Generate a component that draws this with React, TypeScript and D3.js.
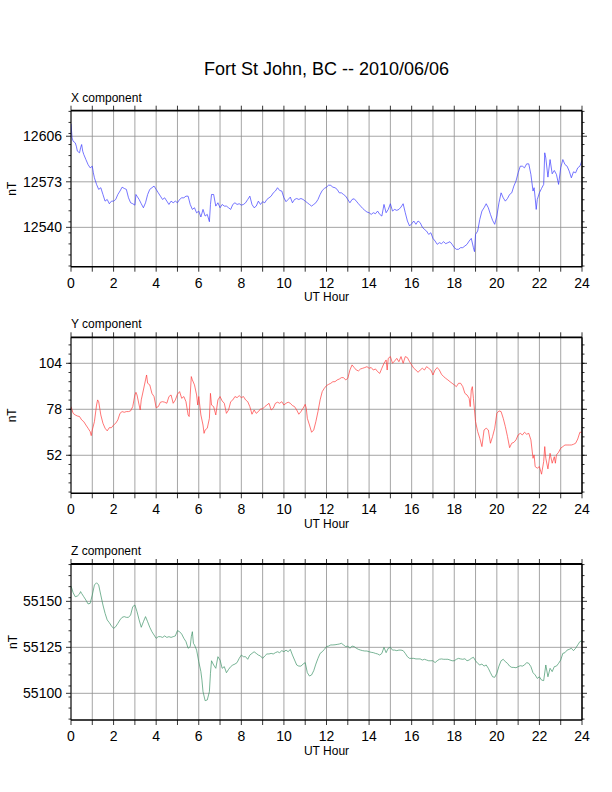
import * as d3 from "d3";

// ── Data (hour UT, nT) ───────────────────────────────────────
const X_COMPONENT: [number, number][] = [
  [0, 12614.9], [0.05, 12604.8], [0.1, 12602.4], [0.2, 12601.2], [0.25, 12598.8], [0.3, 12595.2],
  [0.4, 12594.0], [0.45, 12597.6], [0.5, 12600.0], [0.55, 12595.2], [0.6, 12592.8], [0.7, 12589.1],
  [0.8, 12585.5], [0.9, 12583.1], [1.0, 12584.3], [1.05, 12579.5], [1.1, 12575.9], [1.2, 12571.1],
  [1.3, 12567.5], [1.4, 12568.7], [1.5, 12563.8], [1.6, 12559.0], [1.7, 12560.2], [1.8, 12557.1],
  [1.9, 12559.0], [2.0, 12559.0], [2.1, 12560.2], [2.2, 12563.8], [2.3, 12566.3], [2.4, 12569.1],
  [2.5, 12568.2], [2.6, 12567.5], [2.7, 12561.4], [2.8, 12557.8], [2.9, 12557.1], [3.0, 12556.1],
  [3.05, 12563.8], [3.1, 12562.6], [3.2, 12560.2], [3.3, 12557.1], [3.4, 12554.2], [3.5, 12557.8],
  [3.6, 12563.8], [3.7, 12567.5], [3.8, 12568.7], [3.9, 12569.9], [4.0, 12567.5], [4.1, 12565.0],
  [4.2, 12562.6], [4.3, 12560.2], [4.4, 12561.4], [4.5, 12559.0], [4.6, 12556.6], [4.7, 12559.0],
  [4.8, 12557.8], [4.9, 12559.0], [5.0, 12557.8], [5.1, 12560.2], [5.2, 12561.4], [5.3, 12561.4],
  [5.4, 12562.6], [5.5, 12562.6], [5.6, 12556.6], [5.7, 12553.0], [5.8, 12554.2], [5.9, 12550.5],
  [6.0, 12551.8], [6.1, 12547.5], [6.2, 12553.0], [6.3, 12548.2], [6.4, 12549.4], [6.5, 12544.1],
  [6.55, 12556.6], [6.6, 12563.8], [6.7, 12563.8], [6.8, 12555.4], [6.9, 12557.8], [7.0, 12554.2],
  [7.1, 12556.6], [7.2, 12555.4], [7.3, 12555.4], [7.4, 12554.2], [7.5, 12553.0], [7.6, 12556.6],
  [7.7, 12557.8], [7.8, 12556.6], [7.9, 12557.1], [8.0, 12556.1], [8.1, 12556.6], [8.2, 12557.8],
  [8.3, 12560.2], [8.4, 12562.6], [8.5, 12556.6], [8.6, 12554.2], [8.7, 12555.4], [8.8, 12559.0],
  [8.9, 12556.6], [9.0, 12558.6], [9.1, 12557.8], [9.2, 12560.2], [9.3, 12561.4], [9.4, 12562.6],
  [9.5, 12565.0], [9.6, 12566.3], [9.7, 12568.7], [9.8, 12566.7], [9.9, 12566.3], [10.0, 12561.4],
  [10.1, 12558.6], [10.2, 12560.2], [10.3, 12561.9], [10.4, 12557.8], [10.5, 12560.2], [10.6, 12560.9],
  [10.7, 12560.2], [10.8, 12560.9], [10.9, 12560.2], [11.0, 12559.0], [11.1, 12557.8], [11.2, 12556.6],
  [11.3, 12555.4], [11.4, 12556.6], [11.5, 12557.8], [11.6, 12560.2], [11.7, 12563.8], [11.8, 12566.7],
  [11.9, 12568.2], [12.0, 12569.1], [12.1, 12570.6], [12.2, 12570.4], [12.3, 12569.1], [12.4, 12568.7],
  [12.5, 12567.5], [12.6, 12565.0], [12.7, 12565.0], [12.8, 12563.8], [12.9, 12562.6], [13.0, 12560.2],
  [13.1, 12557.8], [13.2, 12560.2], [13.3, 12560.7], [13.4, 12559.0], [13.5, 12557.1], [13.6, 12555.4],
  [13.7, 12553.7], [13.8, 12552.3], [13.9, 12551.1], [14.0, 12550.6], [14.1, 12549.4], [14.2, 12550.6],
  [14.3, 12549.9], [14.4, 12551.8], [14.5, 12549.4], [14.6, 12548.2], [14.7, 12556.6], [14.8, 12550.6],
  [14.9, 12553.0], [15.0, 12557.1], [15.1, 12551.8], [15.2, 12553.0], [15.3, 12552.3], [15.4, 12553.0],
  [15.5, 12554.7], [15.6, 12557.1], [15.7, 12550.6], [15.8, 12544.6], [15.9, 12541.0], [16.0, 12542.6],
  [16.1, 12544.6], [16.2, 12542.2], [16.3, 12544.6], [16.4, 12543.4], [16.5, 12540.2], [16.6, 12538.5],
  [16.7, 12537.3], [16.8, 12534.9], [16.9, 12536.1], [17.0, 12532.0], [17.1, 12530.1], [17.2, 12527.7],
  [17.3, 12528.9], [17.4, 12528.2], [17.5, 12529.6], [17.6, 12528.2], [17.7, 12528.9], [17.8, 12529.6],
  [17.9, 12527.7], [18.0, 12525.3], [18.1, 12524.1], [18.2, 12524.1], [18.3, 12525.3], [18.4, 12525.3],
  [18.5, 12526.5], [18.6, 12527.7], [18.7, 12530.1], [18.8, 12532.0], [18.9, 12525.3], [18.95, 12522.4],
  [19.0, 12534.9], [19.1, 12537.3], [19.2, 12545.8], [19.3, 12551.8], [19.4, 12554.2], [19.5, 12557.1],
  [19.6, 12554.2], [19.7, 12549.4], [19.8, 12545.1], [19.9, 12542.2], [20.0, 12548.2], [20.1, 12557.8],
  [20.2, 12565.0], [20.3, 12561.4], [20.4, 12559.0], [20.5, 12560.9], [20.6, 12563.8], [20.7, 12565.0],
  [20.8, 12569.9], [20.9, 12573.5], [21.0, 12579.5], [21.1, 12584.3], [21.2, 12584.3], [21.3, 12583.1],
  [21.4, 12586.0], [21.5, 12586.0], [21.6, 12578.3], [21.7, 12566.3], [21.75, 12568.7], [21.8, 12561.4],
  [21.85, 12553.0], [21.9, 12560.2], [22.0, 12565.0], [22.1, 12568.2], [22.2, 12571.1], [22.25, 12594.0],
  [22.3, 12590.3], [22.4, 12576.4], [22.5, 12589.1], [22.6, 12578.8], [22.7, 12581.2], [22.8, 12578.3],
  [22.9, 12571.1], [23.0, 12583.1], [23.1, 12589.1], [23.2, 12585.5], [23.3, 12584.3], [23.4, 12580.7],
  [23.5, 12575.9], [23.6, 12580.2], [23.7, 12579.5], [23.8, 12583.1], [23.9, 12584.3], [24.0, 12588.4],
];

const Y_COMPONENT: [number, number][] = [
  [0, 79.5], [0.1, 75.7], [0.2, 74.8], [0.3, 74.2], [0.4, 73.9], [0.5, 72.0], [0.6, 71.0], [0.7, 69.1],
  [0.8, 67.3], [0.9, 65.4], [0.95, 63.1], [1.0, 66.3], [1.1, 71.0], [1.2, 80.4], [1.25, 83.3], [1.3, 82.3],
  [1.4, 74.8], [1.5, 70.1], [1.6, 67.3], [1.7, 65.8], [1.8, 67.6], [1.9, 67.6], [2.0, 69.1], [2.1, 70.1],
  [2.2, 72.0], [2.3, 75.7], [2.4, 76.7], [2.5, 76.3], [2.6, 76.7], [2.7, 76.7], [2.8, 77.1], [2.9, 79.5],
  [3.0, 86.1], [3.05, 87.6], [3.1, 86.1], [3.2, 80.4], [3.25, 77.6], [3.3, 83.3], [3.4, 88.9], [3.5, 94.6],
  [3.55, 97.4], [3.6, 92.7], [3.7, 91.8], [3.8, 87.0], [3.9, 85.2], [4.0, 78.9], [4.1, 79.5], [4.2, 82.0],
  [4.3, 82.3], [4.4, 82.0], [4.5, 81.4], [4.6, 85.2], [4.7, 86.1], [4.8, 81.4], [4.9, 83.3], [5.0, 86.5],
  [5.1, 88.0], [5.2, 84.2], [5.3, 85.2], [5.4, 82.3], [5.5, 74.8], [5.55, 73.9], [5.6, 86.1], [5.65, 96.5],
  [5.7, 94.6], [5.8, 91.8], [5.9, 86.1], [5.95, 80.4], [6.0, 85.2], [6.1, 74.8], [6.2, 69.1], [6.25, 64.4],
  [6.3, 66.3], [6.4, 67.3], [6.5, 72.9], [6.55, 87.0], [6.6, 80.4], [6.7, 79.5], [6.8, 74.8], [6.9, 83.3],
  [7.0, 85.2], [7.1, 82.7], [7.2, 81.4], [7.3, 75.7], [7.4, 77.6], [7.5, 82.3], [7.6, 83.3], [7.7, 85.2],
  [7.8, 84.6], [7.9, 85.7], [8.0, 84.6], [8.1, 85.2], [8.2, 83.3], [8.3, 82.3], [8.4, 79.5], [8.5, 75.2],
  [8.6, 77.6], [8.7, 75.7], [8.8, 76.7], [8.9, 78.2], [9.0, 78.2], [9.1, 79.5], [9.2, 80.4], [9.3, 81.4],
  [9.4, 77.6], [9.5, 78.6], [9.6, 81.4], [9.7, 82.0], [9.8, 81.4], [9.9, 82.3], [10.0, 80.4], [10.1, 81.4],
  [10.2, 82.0], [10.3, 81.4], [10.4, 80.1], [10.5, 79.5], [10.6, 77.6], [10.7, 75.2], [10.8, 76.7], [10.9, 78.6],
  [11.0, 80.8], [11.05, 78.6], [11.1, 72.9], [11.2, 69.1], [11.3, 65.0], [11.4, 66.3], [11.5, 71.0], [11.6, 76.7],
  [11.7, 83.3], [11.8, 88.0], [11.9, 89.9], [12.0, 91.4], [12.1, 92.1], [12.2, 92.7], [12.3, 93.6], [12.4, 93.6],
  [12.5, 94.6], [12.6, 95.1], [12.7, 95.9], [12.8, 95.9], [12.9, 94.6], [13.0, 95.5], [13.1, 100.2], [13.2, 103.1],
  [13.3, 101.6], [13.4, 100.2], [13.5, 99.7], [13.6, 100.8], [13.7, 101.2], [13.8, 101.6], [13.9, 102.1], [14.0, 101.2],
  [14.1, 101.6], [14.2, 100.2], [14.3, 100.8], [14.4, 99.3], [14.5, 98.3], [14.6, 101.2], [14.7, 104.0], [14.8, 105.9],
  [14.85, 100.2], [14.9, 106.8], [15.0, 107.8], [15.1, 104.0], [15.2, 105.3], [15.3, 106.8], [15.4, 104.9], [15.5, 107.8],
  [15.6, 104.0], [15.7, 107.8], [15.8, 107.2], [15.9, 104.9], [16.0, 103.1], [16.1, 101.2], [16.2, 100.2], [16.3, 98.9],
  [16.4, 100.2], [16.5, 101.2], [16.6, 100.2], [16.7, 102.1], [16.8, 101.2], [16.9, 100.2], [17.0, 97.4], [17.1, 100.2],
  [17.2, 101.6], [17.3, 100.2], [17.4, 97.8], [17.5, 96.5], [17.6, 95.5], [17.7, 94.6], [17.8, 93.6], [17.9, 92.7],
  [18.0, 91.8], [18.1, 90.8], [18.2, 92.7], [18.3, 92.7], [18.4, 90.8], [18.5, 87.0], [18.6, 86.1], [18.7, 84.2],
  [18.75, 79.5], [18.8, 88.9], [18.85, 90.8], [18.9, 84.2], [19.0, 71.0], [19.1, 65.4], [19.2, 61.6], [19.3, 56.9],
  [19.4, 66.3], [19.5, 67.3], [19.6, 66.3], [19.7, 58.8], [19.8, 62.6], [19.9, 67.3], [20.0, 75.7], [20.1, 77.1],
  [20.2, 76.7], [20.3, 72.9], [20.4, 68.2], [20.5, 62.6], [20.6, 56.3], [20.7, 58.8], [20.8, 59.3], [20.9, 60.7],
  [21.0, 63.5], [21.1, 64.4], [21.2, 63.5], [21.3, 65.0], [21.4, 63.9], [21.5, 64.4], [21.6, 60.7], [21.7, 50.3],
  [21.75, 52.2], [21.8, 45.6], [21.9, 44.7], [22.0, 45.6], [22.1, 41.3], [22.2, 48.4], [22.25, 56.9], [22.3, 50.3],
  [22.4, 44.3], [22.5, 53.1], [22.6, 47.5], [22.7, 51.2], [22.75, 47.5], [22.8, 52.2], [22.9, 53.7], [23.0, 56.0],
  [23.1, 56.9], [23.2, 57.8], [23.3, 57.8], [23.4, 57.8], [23.5, 57.8], [23.6, 58.2], [23.7, 58.8], [23.8, 61.2],
  [23.9, 65.0], [24.0, 65.0],
];

const Z_COMPONENT: [number, number][] = [
  [0, 55158.3], [0.1, 55154.7], [0.2, 55152.5], [0.3, 55152.9], [0.4, 55154.0], [0.45, 55155.3], [0.5, 55154.3],
  [0.6, 55152.5], [0.7, 55150.7], [0.8, 55148.6], [0.9, 55148.9], [1.0, 55153.4], [1.1, 55158.9], [1.2, 55160.1],
  [1.3, 55158.9], [1.4, 55153.4], [1.5, 55148.0], [1.6, 55143.5], [1.7, 55139.9], [1.8, 55138.4], [1.9, 55136.6],
  [2.0, 55135.3], [2.1, 55136.2], [2.2, 55138.0], [2.3, 55139.9], [2.4, 55141.3], [2.5, 55141.7], [2.6, 55141.3],
  [2.7, 55141.3], [2.8, 55142.6], [2.9, 55147.1], [3.0, 55148.0], [3.1, 55144.4], [3.2, 55139.9], [3.3, 55135.9],
  [3.4, 55138.9], [3.5, 55141.7], [3.6, 55138.9], [3.7, 55135.9], [3.8, 55133.5], [3.9, 55131.7], [4.0, 55129.9],
  [4.1, 55130.8], [4.2, 55130.8], [4.3, 55130.4], [4.4, 55131.2], [4.5, 55130.4], [4.6, 55130.8], [4.7, 55130.4],
  [4.8, 55130.8], [4.9, 55131.2], [5.0, 55134.1], [5.1, 55133.5], [5.2, 55132.2], [5.3, 55129.9], [5.4, 55128.1],
  [5.5, 55124.5], [5.6, 55125.4], [5.65, 55130.8], [5.7, 55133.5], [5.75, 55127.2], [5.8, 55126.3], [5.9, 55123.5],
  [6.0, 55117.2], [6.1, 55111.8], [6.15, 55107.2], [6.2, 55100.9], [6.3, 55096.0], [6.4, 55096.4], [6.5, 55100.9],
  [6.55, 55110.9], [6.6, 55117.7], [6.7, 55115.4], [6.8, 55113.6], [6.9, 55119.9], [7.0, 55118.1], [7.1, 55113.6],
  [7.2, 55114.5], [7.3, 55111.2], [7.4, 55113.0], [7.5, 55114.5], [7.6, 55115.4], [7.7, 55115.9], [7.8, 55116.7],
  [7.9, 55119.0], [8.0, 55120.8], [8.1, 55119.9], [8.2, 55119.9], [8.3, 55118.5], [8.4, 55120.8], [8.5, 55121.7],
  [8.6, 55122.6], [8.7, 55121.7], [8.8, 55120.8], [8.9, 55120.3], [9.0, 55119.0], [9.1, 55120.3], [9.2, 55121.4],
  [9.3, 55121.4], [9.4, 55121.7], [9.5, 55121.4], [9.6, 55122.1], [9.7, 55122.6], [9.8, 55122.1], [9.9, 55123.2],
  [10.0, 55122.6], [10.1, 55123.5], [10.2, 55122.6], [10.3, 55123.9], [10.4, 55120.8], [10.5, 55118.1], [10.6, 55115.4],
  [10.7, 55114.8], [10.8, 55114.8], [10.9, 55115.9], [11.0, 55116.7], [11.1, 55111.2], [11.2, 55109.4], [11.3, 55110.0],
  [11.4, 55112.3], [11.5, 55115.9], [11.6, 55119.0], [11.7, 55121.7], [11.8, 55122.6], [11.9, 55123.9], [12.0, 55125.4],
  [12.1, 55125.7], [12.2, 55126.3], [12.3, 55126.3], [12.4, 55126.4], [12.5, 55126.6], [12.6, 55126.8], [12.7, 55127.2],
  [12.8, 55126.3], [12.9, 55125.4], [13.0, 55125.7], [13.1, 55124.5], [13.2, 55125.7], [13.3, 55125.4], [13.4, 55124.5],
  [13.5, 55123.9], [13.6, 55123.5], [13.7, 55123.2], [13.8, 55123.0], [13.9, 55123.0], [14.0, 55122.6], [14.1, 55122.3],
  [14.2, 55122.1], [14.3, 55121.7], [14.4, 55121.4], [14.5, 55120.8], [14.6, 55121.7], [14.7, 55125.0], [14.8, 55122.1],
  [14.9, 55124.5], [15.0, 55125.0], [15.1, 55123.5], [15.2, 55123.5], [15.3, 55123.2], [15.4, 55123.5], [15.5, 55123.5],
  [15.6, 55123.2], [15.7, 55121.7], [15.8, 55119.9], [15.9, 55119.0], [16.0, 55119.0], [16.1, 55119.0], [16.2, 55118.7],
  [16.3, 55118.7], [16.4, 55118.7], [16.5, 55118.1], [16.6, 55118.5], [16.7, 55118.1], [16.8, 55117.7], [16.9, 55117.7],
  [17.0, 55117.7], [17.1, 55116.7], [17.2, 55117.7], [17.3, 55118.5], [17.4, 55118.7], [17.5, 55118.5], [17.6, 55118.5],
  [17.7, 55118.5], [17.8, 55118.1], [17.9, 55117.7], [18.0, 55117.7], [18.1, 55118.5], [18.2, 55119.0], [18.3, 55118.7],
  [18.4, 55118.5], [18.5, 55118.8], [18.6, 55117.7], [18.7, 55118.1], [18.8, 55119.0], [18.9, 55119.6], [19.0, 55117.7],
  [19.1, 55116.3], [19.2, 55115.4], [19.3, 55115.9], [19.4, 55114.8], [19.5, 55115.4], [19.6, 55113.6], [19.7, 55111.2],
  [19.8, 55109.0], [19.9, 55108.7], [20.0, 55110.9], [20.1, 55114.8], [20.2, 55117.7], [20.3, 55118.5], [20.4, 55117.2],
  [20.5, 55116.3], [20.6, 55114.8], [20.7, 55114.1], [20.8, 55114.1], [20.9, 55113.9], [21.0, 55114.5], [21.1, 55115.0],
  [21.2, 55114.8], [21.3, 55115.4], [21.4, 55116.7], [21.5, 55116.3], [21.6, 55114.5], [21.7, 55111.2], [21.8, 55110.0],
  [21.9, 55108.1], [22.0, 55109.0], [22.1, 55107.2], [22.2, 55106.9], [22.3, 55115.4], [22.4, 55109.0], [22.5, 55113.6],
  [22.6, 55111.8], [22.7, 55114.5], [22.8, 55114.8], [22.9, 55116.3], [23.0, 55118.1], [23.1, 55121.7], [23.2, 55122.1],
  [23.3, 55123.5], [23.4, 55123.9], [23.5, 55124.5], [23.6, 55123.2], [23.7, 55124.5], [23.8, 55126.3], [23.9, 55128.1],
  [24.0, 55128.6],
];

// ── Axes ──────────────────────────────────────────────────────
const HOUR_LABELS = [0, 2, 4, 6, 8, 10, 12, 14, 16, 18, 20, 22, 24];
const HOUR_MARKS = [0, 1, 2, 3, 4, 5, 6, 7, 8, 9, 10, 11, 12, 13, 14, 15, 16, 17, 18, 19, 20, 21, 22, 23, 24];

const X_TICKS = [12540, 12573, 12606];
const Y_TICKS = [52, 78, 104];
const Z_TICKS = [55100, 55125, 55150];

const X_DOMAIN: [number, number] = [12511.5, 12624.5];
const Y_DOMAIN: [number, number] = [30.5, 118.7];
const Z_DOMAIN: [number, number] = [55085.5, 55170.3];

const MINOR_STEPS = [8, 5.2, 6];
const TITLES = ["X component", "Y component", "Z component"];
const COLORS = ["#3b3bff", "#ff3b3b", "#3f9468"];

// ── Geometry ──────────────────────────────────────────────────
const W = 612;
const H = 792;
const LEFT = 71;
const RIGHT = 582;
const PANEL_TOPS = [110.7, 337.3, 564];
const PANEL_H = 156;
const FONT = "'Liberation Sans', Arial, Helvetica, sans-serif";
const GRID = "#8e8e8e";

const PANELS = [
  { data: X_COMPONENT, ticks: X_TICKS, domain: X_DOMAIN },
  { data: Y_COMPONENT, ticks: Y_TICKS, domain: Y_DOMAIN },
  { data: Z_COMPONENT, ticks: Z_TICKS, domain: Z_DOMAIN },
].map((p, i) => ({ ...p, minor: MINOR_STEPS[i], title: TITLES[i], color: COLORS[i], top: PANEL_TOPS[i] }));

const hour = d3.scaleLinear().domain([0, 24]).range([LEFT, RIGHT]);

function minorTicks(domain: [number, number], step: number): number[] {
  const out: number[] = [];
  for (let k = Math.ceil(domain[0] / step); k * step <= domain[1] + 1e-9; k++) {
    out.push(+(k * step).toFixed(3));
  }
  return out;
}

function Panel({ p, idx }: { p: (typeof PANELS)[number]; idx: number }) {
  const top = p.top;
  const bottom = top + PANEL_H;
  const y = d3.scaleLinear().domain(p.domain).range([bottom, top]);
  const line = d3
    .line<[number, number]>()
    .x((d) => hour(d[0]))
    .y((d) => y(d[1]));
  const clipId = `clip-${idx}`;
  const midY = (top + bottom) / 2;

  return (
    <g>
      <defs>
        <clipPath id={clipId}>
          <rect x={LEFT} y={top} width={RIGHT - LEFT} height={PANEL_H} />
        </clipPath>
      </defs>

      {/* grid */}
      {HOUR_MARKS.map((h) => (
        <line key={`gv-${h}`} x1={hour(h)} x2={hour(h)} y1={top} y2={bottom} stroke={GRID} strokeWidth={0.8} />
      ))}
      {p.ticks.map((t) => (
        <line key={`gh-${t}`} x1={LEFT} x2={RIGHT} y1={y(t)} y2={y(t)} stroke={GRID} strokeWidth={0.8} />
      ))}

      {/* series */}
      <path d={line(p.data) ?? ""} fill="none" stroke={p.color} strokeWidth={0.7} clipPath={`url(#${clipId})`} />

      {/* frame */}
      <line x1={LEFT} x2={RIGHT} y1={top} y2={top} stroke="#000" strokeWidth={1.8} />
      <line x1={LEFT} x2={RIGHT} y1={bottom} y2={bottom} stroke="#000" strokeWidth={1.5} />
      <line x1={RIGHT} x2={RIGHT} y1={top} y2={bottom} stroke="#000" strokeWidth={1.5} />
      <line x1={LEFT} x2={LEFT} y1={top} y2={bottom} stroke="#000" strokeWidth={1} />

      {/* hour ticks top and bottom */}
      {HOUR_MARKS.map((h) => (
        <g key={`ht-${h}`}>
          <line x1={hour(h)} x2={hour(h)} y1={top} y2={top - 5} stroke="#000" strokeWidth={0.8} />
          <line x1={hour(h)} x2={hour(h)} y1={bottom} y2={bottom + 5} stroke="#000" strokeWidth={0.8} />
        </g>
      ))}

      {/* y ticks both sides */}
      {minorTicks(p.domain, p.minor).map((t) => (
        <g key={`mt-${t}`}>
          <line x1={LEFT} x2={LEFT - 2.5} y1={y(t)} y2={y(t)} stroke="#000" strokeWidth={0.8} />
          <line x1={RIGHT} x2={RIGHT + 2.5} y1={y(t)} y2={y(t)} stroke="#000" strokeWidth={0.8} />
        </g>
      ))}
      {p.ticks.map((t) => (
        <g key={`yt-${t}`}>
          <line x1={LEFT} x2={LEFT - 5} y1={y(t)} y2={y(t)} stroke="#000" strokeWidth={0.8} />
          <line x1={RIGHT} x2={RIGHT + 5} y1={y(t)} y2={y(t)} stroke="#000" strokeWidth={0.8} />
          <text x={LEFT - 9} y={y(t) + 5} textAnchor="end" fontSize={14} fontFamily={FONT} fill="#000">
            {t}
          </text>
        </g>
      ))}

      {/* hour labels */}
      {HOUR_LABELS.map((h) => (
        <text key={`hl-${h}`} x={hour(h)} y={bottom + 21} textAnchor="middle" fontSize={14} fontFamily={FONT} fill="#000">
          {h}
        </text>
      ))}

      <text x={LEFT} y={top - 9} fontSize={12} fontFamily={FONT} fill="#000">
        {p.title}
      </text>
      <text x={(LEFT + RIGHT) / 2} y={bottom + 34.5} textAnchor="middle" fontSize={12} fontFamily={FONT} fill="#000">
        UT Hour
      </text>
      <text
        x={16.5}
        y={midY}
        textAnchor="middle"
        fontSize={12}
        fontFamily={FONT}
        fill="#000"
        transform={`rotate(-90, 16.5, ${midY})`}
      >
        nT
      </text>
    </g>
  );
}

export default function App() {
  return (
    <svg
      width={W}
      height={H}
      viewBox={`0 0 ${W} ${H}`}
      style={{ position: "absolute", left: 0, top: 0, background: "#fff" }}
    >
      <rect x={0} y={0} width={W} height={H} fill="#fff" />
      <text x={(LEFT + RIGHT) / 2} y={75} textAnchor="middle" fontSize={18} fontFamily={FONT} fill="#000">
        Fort St John, BC -- 2010/06/06
      </text>
      {PANELS.map((p, i) => (
        <Panel key={p.title} p={p} idx={i} />
      ))}
    </svg>
  );
}
